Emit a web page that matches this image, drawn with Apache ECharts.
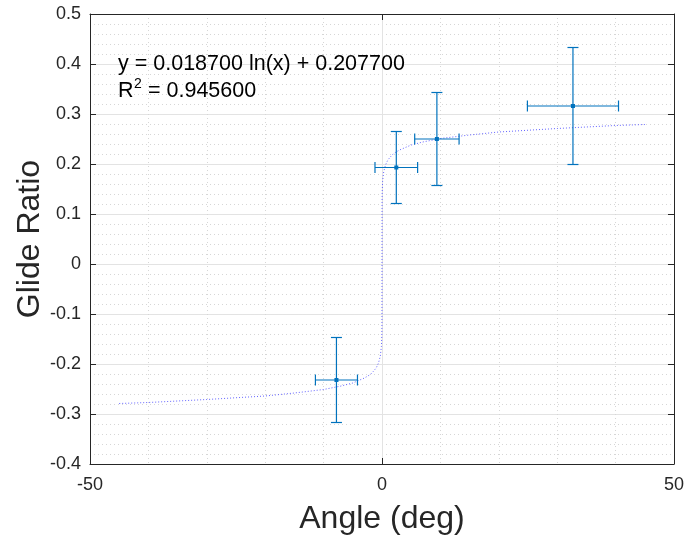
<!DOCTYPE html>
<html lang="en">
<head>
    <meta charset="UTF-8">
    <title>Glide Ratio</title>
    <script src="https://cdn.jsdelivr.net/npm/echarts@6/dist/echarts.min.js"></script>
    <style>
        html, body{
            margin: 0;
            padding: 0;
            background: #ffffff;
        }
        #chart{
            width: 687px;
            height: 543px;
        }
    </style>
</head>
<body>
    <div id="chart"></div>
<script>
    // measured points (angle, glide ratio) with error half-widths
    var ptX = [-7.8, 2.45, 9.4, 32.7];
    var ptY = [-0.232, 0.193, 0.250, 0.316];
    var ptXErr = [3.6, 3.65, 3.8, 7.8];
    var ptYErr = [0.085, 0.072, 0.093, 0.117];

    // log fit curve
    var fitX = [-45, -40, -30, -20, -15, -10, -7, -5, -3, -2, -1.5, -1, -0.6, -0.3, -0.1, -0.03, -0.01, 0,
                0.01, 0.03, 0.1, 0.3, 0.6, 1, 1.5, 2, 3, 5, 7, 10, 15, 20, 30, 40, 45];
    var fitY = [-0.279, -0.277, -0.271, -0.264, -0.258, -0.251, -0.244, -0.238, -0.228, -0.221, -0.215, -0.208, -0.198, -0.185, -0.165, -0.142, -0.122, 0,
                0.122, 0.142, 0.165, 0.185, 0.198, 0.208, 0.215, 0.221, 0.228, 0.238, 0.244, 0.251, 0.258, 0.264, 0.271, 0.277, 0.279];

    var xTicks = [-50, 0, 50];
    var yTicks = [-0.4, -0.3, -0.2, -0.1, 0, 0.1, 0.2, 0.3, 0.4, 0.5];

    var fitLine = 'y = 0.018700 ln(x) + 0.207700';
    var r2Text = '= 0.945600';

    var axisCol = '#262626';
    var errCol = '#0072BD';
    var font = 'Liberation Sans, Arial, Helvetica, sans-serif';

    var chart = echarts.init(document.getElementById('chart'));

    function mainAxis(extra){
        var base = {
            type: 'value',
            axisLine: {show: true, onZero: false, lineStyle: {color: axisCol, width: 1}},
            axisTick: {show: true, inside: true, length: 6, lineStyle: {color: axisCol}},
            axisLabel: {color: axisCol, fontSize: 18, fontFamily: font},
            splitLine: {show: true, lineStyle: {color: '#e3e3e3', width: 1}},
            minorTick: {show: true, splitNumber: 5, length: 0},
            minorSplitLine: {show: true, lineStyle: {color: '#d6d6d6', type: [1, 3], width: 1}}
        };
        return Object.assign(base, extra);
    }
    function sideAxis(extra){
        var base = {
            type: 'value',
            axisLine: {show: true, onZero: false, lineStyle: {color: axisCol, width: 1}},
            axisTick: {show: true, inside: true, length: 6, lineStyle: {color: axisCol}},
            axisLabel: {show: false},
            splitLine: {show: false}
        };
        return Object.assign(base, extra);
    }

    var xRange = {min: xTicks[0], max: xTicks[xTicks.length - 1], interval: 50};
    var yRange = {min: yTicks[0], max: yTicks[yTicks.length - 1], interval: 0.1};

    chart.setOption({
        animation: false,
        grid: {left: 90, right: 11, top: 14, bottom: 79},
        xAxis: [
            mainAxis(Object.assign({
                position: 'bottom',
                name: 'Angle (deg)',
                nameLocation: 'middle',
                nameGap: 39,
                nameTextStyle: {color: axisCol, fontSize: 32, fontFamily: font},
                axisLabel: {color: axisCol, fontSize: 18, fontFamily: font, margin: 12}
            }, xRange)),
            sideAxis(Object.assign({position: 'top'}, xRange))
        ],
        yAxis: [
            mainAxis(Object.assign({
                position: 'left',
                name: 'Glide Ratio',
                nameLocation: 'middle',
                nameGap: 44,
                nameMoveOverlap: false,
                nameTextStyle: {color: axisCol, fontSize: 32, fontFamily: font},
                axisLabel: {
                    color: axisCol, fontSize: 18, fontFamily: font, margin: 9,
                    formatter: function(v){ return String(Math.round(v * 10) / 10); }
                }
            }, yRange)),
            sideAxis(Object.assign({position: 'right'}, yRange))
        ],
        graphic: [
            {type: 'text', left: 118, top: 53, silent: true, z: 100,
             style: {text: fitLine, fill: '#000', font: '21.5px ' + font}},
            {type: 'text', left: 118, top: 80, silent: true, z: 100,
             style: {text: 'R', fill: '#000', font: '21.5px ' + font}},
            {type: 'text', left: 134, top: 77, silent: true, z: 100,
             style: {text: '2', fill: '#000', font: '14px ' + font}},
            {type: 'text', left: 148, top: 80, silent: true, z: 100,
             style: {text: r2Text, fill: '#000', font: '21.5px ' + font}}
        ],
        series: [
            {
                name: 'fit',
                type: 'line',
                data: fitX.map(function(x, i){ return [x, fitY[i]]; }),
                showSymbol: false,
                lineStyle: {color: '#3d3dff', width: 1, type: [1, 2], opacity: 0.8},
                z: 2
            },
            {
                name: 'data',
                type: 'custom',
                data: ptX.map(function(x, i){ return [x, ptY[i], ptXErr[i], ptYErr[i]]; }),
                encode: {x: 0, y: 1},
                z: 3,
                renderItem: function(params, api){
                    var x = api.value(0), y = api.value(1);
                    var xe = api.value(2), ye = api.value(3);
                    var c = api.coord([x, y]);
                    var l = api.coord([x - xe, y]);
                    var r = api.coord([x + xe, y]);
                    var t = api.coord([x, y + ye]);
                    var b = api.coord([x, y - ye]);
                    var cap = 5.5;
                    var st = {stroke: errCol, lineWidth: 1.2, fill: null};
                    function seg(x1, y1, x2, y2){
                        return {type: 'line', shape: {x1: x1, y1: y1, x2: x2, y2: y2}, style: st};
                    }
                    return {
                        type: 'group',
                        children: [
                            seg(l[0], c[1], r[0], c[1]),
                            seg(l[0], c[1] - cap, l[0], c[1] + cap),
                            seg(r[0], c[1] - cap, r[0], c[1] + cap),
                            seg(c[0], t[1], c[0], b[1]),
                            seg(c[0] - cap, t[1], c[0] + cap, t[1]),
                            seg(c[0] - cap, b[1], c[0] + cap, b[1]),
                            {type: 'rect', shape: {x: c[0] - 2, y: c[1] - 2, width: 4, height: 4},
                             style: {fill: errCol}}
                        ]
                    };
                }
            }
        ]
    });
</script>
</body>
</html>
